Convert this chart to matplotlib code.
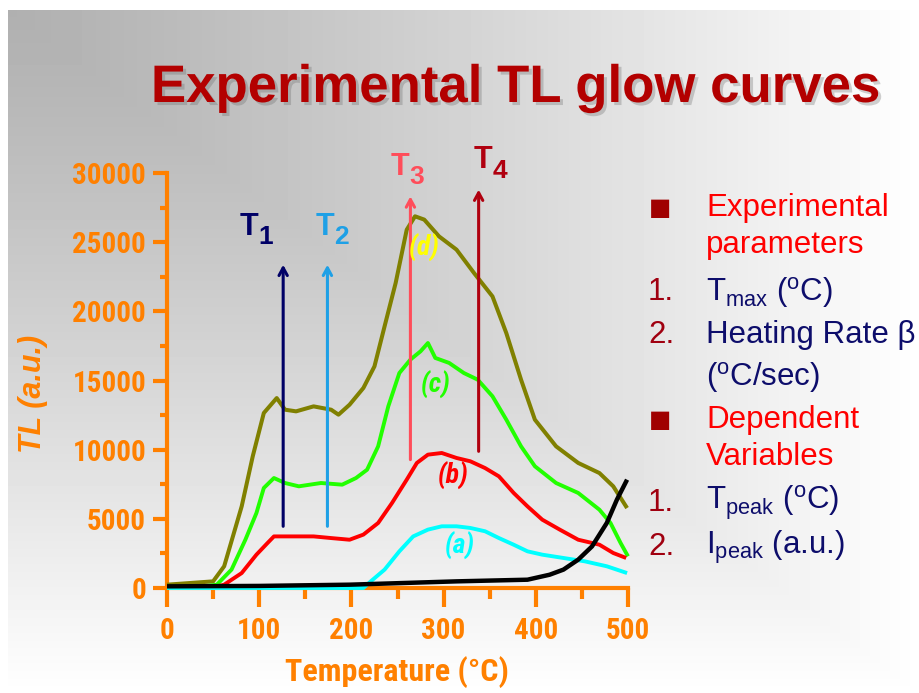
import matplotlib
matplotlib.use('Agg')
import matplotlib.pyplot as plt
import numpy as np
from matplotlib import patheffects as pe
from matplotlib.font_manager import FontProperties

plt.rcParams['mathtext.fontset'] = 'custom'
plt.rcParams['mathtext.rm'] = 'Liberation Sans'
plt.rcParams['mathtext.it'] = 'Liberation Sans:italic'
plt.rcParams['mathtext.bf'] = 'Liberation Sans:bold'

# glow curves: temperature (C) and TL (a.u.)
t_d = [0, 50, 62, 81, 93, 105, 119, 128, 140, 159, 178, 186, 198, 213, 225, 236, 248, 260, 269,
       279, 295, 314, 333, 353, 368, 384, 399, 422, 446, 469, 484, 499]
i_d = [240, 480, 1570, 5900, 9520, 12650, 13730, 12890, 12770, 13130, 12890, 12530, 13250, 14460,
       16020, 18920, 22050, 25900, 26870, 26630, 25420, 24460, 22770, 21080, 18430, 15060, 12170,
       10240, 9040, 8310, 7350, 5780]

t_c = [0, 40, 54, 70, 85, 97, 105, 116, 128, 143, 167, 190, 205, 217, 229, 240, 252, 264, 275,
       283, 291, 306, 322, 337, 353, 368, 384, 399, 422, 446, 469, 481, 492, 500]
i_c = [100, 120, 240, 1330, 3490, 5420, 7230, 7950, 7590, 7350, 7590, 7470, 7950, 8550, 10240,
       13130, 15540, 16510, 17110, 17710, 16630, 16270, 15540, 15060, 13860, 12170, 10240, 8800,
       7590, 6870, 5660, 4700, 3250, 2290]

t_b = [0, 54, 62, 81, 97, 109, 116, 132, 159, 178, 198, 213, 229, 244, 260, 271, 283, 298, 314,
       329, 345, 360, 376, 391, 407, 426, 446, 469, 484, 498]
i_b = [80, 100, 240, 1080, 2410, 3250, 3730, 3730, 3730, 3610, 3490, 3860, 4700, 6140, 7830,
       9040, 9640, 9760, 9400, 9160, 8670, 8070, 6870, 5900, 4940, 4220, 3490, 3130, 2530, 2170]

t_a = [0, 213, 221, 236, 252, 267, 283, 298, 314, 329, 345, 360, 376, 391, 407, 430, 453, 477, 499]
i_a = [0, 0, 480, 1330, 2650, 3730, 4220, 4460, 4460, 4340, 4100, 3610, 3130, 2650, 2410, 2170,
       1930, 1570, 1080]

t_bg = [0, 100, 198, 314, 391, 415, 430, 446, 461, 477, 488, 499]
i_bg = [120, 150, 240, 480, 600, 960, 1330, 2050, 3010, 4700, 6390, 7830]

curves = [(t_d, i_d, '#808000', 2.9), (t_c, i_c, '#22ff00', 2.8), (t_b, i_b, '#ff0000', 2.8),
          (t_a, i_a, '#00ffff', 2.8), (t_bg, i_bg, '#000000', 3.2)]

# arrows: temperature, bottom, tip
arrow_t = [126, 174, 264, 338]
arrow_lo = [4460, 4460, 9280, 9880]
arrow_hi = [23370, 23370, 28310, 28800]
arrow_col = ['#000066', '#1ea0e6', '#ff4d5a', '#b0000f']
tlab_t = [99, 181, 263, 353]
tlab_i = [25540, 25540, 29880, 30360]
tlab_sub = ['1', '2', '3', '4']

clab = ['(d)', '(c)', '(b)', '(a)']
clab_t = [279, 291, 310, 318]
clab_i = [24580, 14700, 8070, 3010]
clab_col = ['#ffff00', '#22ff00', '#ff0000', '#00ffff']

orange = '#ff8000'
narrow = 'Roboto Condensed'

fig = plt.figure(figsize=(9.2, 6.93), dpi=100)

# slide background gradient
bg = fig.add_axes([0, 0, 1, 1], zorder=-10)
H, W = 693, 920
yy, xx = np.mgrid[0:H, 0:W]
u = np.clip((xx - 8) / 912, 0, 1)
v = np.clip((yy - 10) / 683, 0, 1)
g = 0.69 + 0.31 * np.maximum(u, v) ** 1.15
g[(xx < 8) | (yy < 10)] = 1.0
bg.imshow(g, cmap='gray', vmin=0, vmax=1, aspect='auto', interpolation='bilinear')
bg.axis('off')

ax = fig.add_axes([167 / 920, 1 - 588 / 693, 461 / 920, 415 / 693])
ax.set_facecolor('none')

for t, i, c, lw in curves:
    ax.plot(t, i, color=c, lw=lw, clip_on=False, zorder=3 if c != '#000000' else 4,
            solid_capstyle='butt', solid_joinstyle='round')

for x, lo, hi, c in zip(arrow_t, arrow_lo, arrow_hi, arrow_col):
    ax.annotate('', xy=(x, hi), xytext=(x, lo), annotation_clip=False, zorder=5,
                arrowprops=dict(arrowstyle='->,head_length=0.55,head_width=0.3', color=c, lw=2.2,
                                shrinkA=0, shrinkB=0))

for x, y, s, c in zip(tlab_t, tlab_i, tlab_sub, arrow_col):
    ax.text(x, y, 'T', color=c, fontsize=22, fontweight='bold', family='Liberation Sans',
            ha='right', va='baseline', clip_on=False)
    ax.annotate(s, xy=(x, y), xytext=(0, -7), textcoords='offset points', color=c, fontsize=19,
                fontweight='bold', family='Liberation Sans', ha='left', va='baseline',
                annotation_clip=False)

for s, x, y, c in zip(clab, clab_t, clab_i, clab_col):
    ax.text(x, y, s, color=c, fontsize=20, style='italic', fontweight='bold', family=narrow,
            ha='center', va='center', zorder=6)

ax.set_xlim(0, 500)
ax.set_ylim(0, 30000)
ax.set_xticks(np.arange(0, 501, 100))
ax.set_xticks(np.arange(50, 500, 100), minor=True)
ax.set_yticks(np.arange(0, 30001, 5000))
ax.set_yticks(np.arange(2500, 30000, 5000), minor=True)
for s in ['top', 'right']:
    ax.spines[s].set_visible(False)
for s in ['left', 'bottom']:
    ax.spines[s].set_color(orange)
    ax.spines[s].set_linewidth(3)
ax.tick_params(axis='x', which='major', length=14, width=3, color=orange, pad=7)
ax.tick_params(axis='x', which='minor', length=8, width=3, color=orange)
ax.tick_params(axis='y', which='major', length=10, width=3, color=orange, pad=5)
ax.tick_params(axis='y', which='minor', length=5, width=3, color=orange)
tickfont = FontProperties(family=narrow, weight='bold', size=21)
for lbl in ax.get_xticklabels() + ax.get_yticklabels():
    lbl.set_fontproperties(tickfont)
    lbl.set_color(orange)

fig.text(397 / 920, 1 - 672 / 693, 'Temperature (°C)', color=orange, fontsize=23,
         fontweight='bold', family=narrow, ha='center', va='center')
fig.text(33 / 920, 1 - 394 / 693, 'TL (a.u.)', color=orange, fontsize=22, fontweight='bold',
         style='italic', family='Liberation Sans', rotation=90, ha='center', va='center')

# title with shadow
fig.text(515 / 920, 1 - 102 / 693, 'Experimental TL glow curves', color='#b30000', fontsize=38,
         fontweight='bold', family='Liberation Sans', ha='center', va='baseline',
         path_effects=[pe.withSimplePatchShadow(offset=(2.2, -2.2), shadow_rgbFace='#666666',
                                                alpha=0.3)])

# right-hand notes
head_col = '#ff0000'
num_col = '#a00010'
body_col = '#0d0d6b'
fs = 22.5
tx = 706 / 920
nx = 648 / 920
notes = [
    (208, 'bullet', 'Experimental', head_col),
    (245, None, 'parameters', head_col),
    (292, '1.', r'T$_{\mathrm{max}}$ ($^{\mathrm{o}}$C)', body_col),
    (335, '2.', 'Heating Rate β', body_col),
    (377, None, r'($^{\mathrm{o}}$C/sec)', body_col),
    (420, 'bullet', 'Dependent', head_col),
    (457, None, 'Variables', head_col),
    (503, '1.', r'T$_{\mathrm{peak}}$ ($^{\mathrm{o}}$C)', body_col),
    (547, '2.', r'I$_{\mathrm{peak}}$ (a.u.)', body_col),
]
for y, mark, s, c in notes:
    yf = 1 - y / 693
    if mark == 'bullet':
        fig.text(660 / 920, yf, '■', color='#a00000', fontsize=17, family='DejaVu Sans',
                 ha='center', va='center')
    elif mark:
        fig.text(nx, yf, mark, color=num_col, fontsize=fs, family='Liberation Sans',
                 ha='left', va='center')
    fig.text(tx, yf, s, color=c, fontsize=fs, family='Liberation Sans', ha='left', va='center')

fig.savefig('out.png', dpi=100)
